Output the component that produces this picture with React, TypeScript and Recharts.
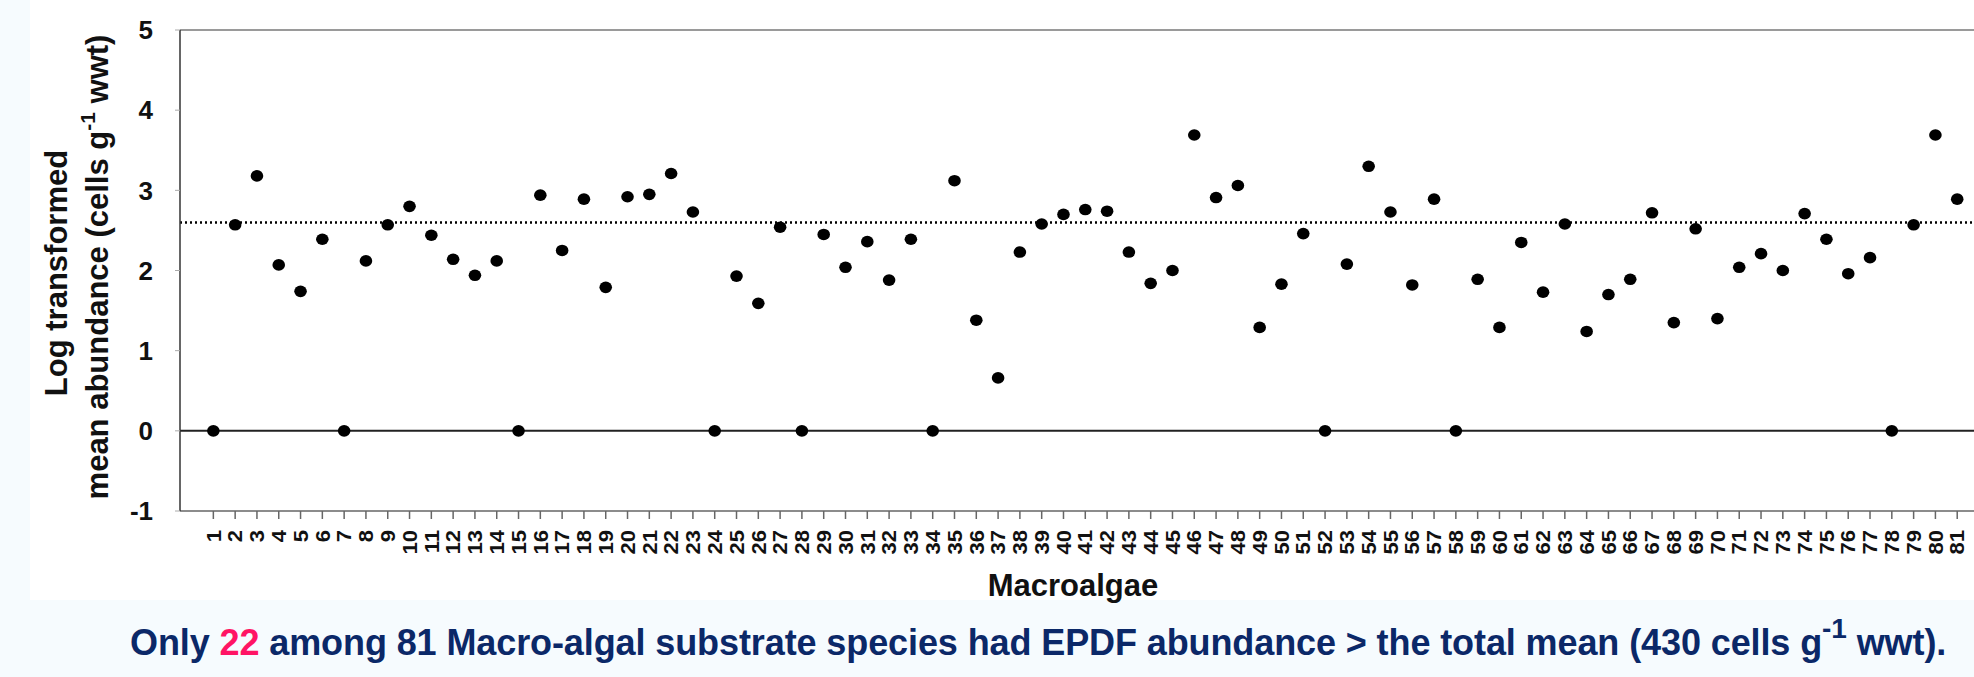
import React from 'react';
import {
  ScatterChart,
  Scatter,
  XAxis,
  YAxis,
  ReferenceLine,
} from 'recharts';

// macroalgae substrate ids (x categories)
const categories = [
  1, 2, 3, 4, 5, 6, 7, 8, 9, 10, 11, 12, 13, 14, 15, 16, 17, 18, 19, 20,
  21, 22, 23, 24, 25, 26, 27, 28, 29, 30, 31, 32, 33, 34, 35, 36, 37, 38, 39, 40,
  41, 42, 43, 44, 45, 46, 47, 48, 49, 50, 51, 52, 53, 54, 55, 56, 57, 58, 59, 60,
  61, 62, 63, 64, 65, 66, 67, 68, 69, 70, 71, 72, 73, 74, 75, 76, 77, 78, 79, 80, 81,
];

// log transformed mean abundance (cells g-1 wwt)
const abundance = [
  0, 2.57, 3.18, 2.07, 1.74, 2.39, 0, 2.12, 2.57, 2.8,
  2.44, 2.14, 1.94, 2.12, 0, 2.94, 2.25, 2.89, 1.79, 2.92,
  2.95, 3.21, 2.73, 0, 1.93, 1.59, 2.54, 0, 2.45, 2.04,
  2.36, 1.88, 2.39, 0, 3.12, 1.38, 0.66, 2.23, 2.58, 2.7,
  2.76, 2.74, 2.23, 1.84, 2.0, 3.69, 2.91, 3.06, 1.29, 1.83,
  2.46, 0, 2.08, 3.3, 2.73, 1.82, 2.89, 0, 1.89, 1.29,
  2.35, 1.73, 2.58, 1.24, 1.7, 1.89, 2.72, 1.35, 2.52, 1.4,
  2.04, 2.21, 2.0, 2.71, 2.39, 1.96, 2.16, 0, 2.57, 3.69, 2.89,
];

const totalMean = 2.6;
const yTicks = [-1, 0, 1, 2, 3, 4, 5];

const data = categories.map((c, i) => ({ x: c, y: abundance[i] }));

const FONT = '"Liberation Sans", Arial, Helvetica, sans-serif';

// rotated, slightly stretched category labels like the original
const XTick = (props: any) => {
  const { x, y, payload } = props;
  const ty = y + 11;
  return (
    <text
      x={0}
      y={0}
      dy="0.36em"
      transform={`translate(${x}, ${ty}) rotate(-90) scale(1.1, 1)`}
      textAnchor="end"
      fontFamily={FONT}
      fontWeight="bold"
      fontSize={20}
      fill="#111"
    >
      {payload.value}
    </text>
  );
};

const Dot = (props: any) => (
  <ellipse cx={props.cx} cy={props.cy} rx={6.3} ry={5.8} fill="#000" />
);

export default function App() {
  return (
    <div
      style={{
        position: 'absolute',
        left: 0,
        top: 0,
        width: 1974,
        height: 677,
        background: '#f6fbfe',
        fontFamily: FONT,
      }}
    >
      <div
        style={{
          position: 'absolute',
          left: 30,
          top: 0,
          width: 1944,
          height: 600,
          background: '#fff',
        }}
      />
      <div style={{ position: 'absolute', left: 0, top: 0 }}>
        <ScatterChart
          width={1974}
          height={677}
          margin={{ top: 30, right: 0, left: 0, bottom: 0 }}
        >
          <XAxis
            type="number"
            dataKey="x"
            domain={[-0.53, 81.77]}
            allowDataOverflow
            ticks={categories}
            interval={0}
            height={166}
            tickSize={8}
            tickMargin={0}
            axisLine={{ stroke: '#8c8c8c', strokeWidth: 2 }}
            tickLine={{ stroke: '#666', strokeWidth: 1.5 }}
            tick={<XTick />}
            label={{
              content: () => (
                <text
                  x={1073}
                  y={596}
                  textAnchor="middle"
                  fontFamily={FONT}
                  fontWeight="bold"
                  fontSize={31}
                  fill="#111"
                >
                  Macroalgae
                </text>
              ),
            }}
          />
          <YAxis
            type="number"
            dataKey="y"
            domain={[-1, 5]}
            ticks={yTicks}
            interval={0}
            width={180}
            tickSize={5}
            tickMargin={22}
            axisLine={{ stroke: '#333', strokeWidth: 1.5 }}
            tickLine={{ stroke: '#aaa', strokeWidth: 1 }}
            tick={{
              fontFamily: FONT,
              fontWeight: 'bold',
              fontSize: 26,
              fill: '#111',
            }}
            label={{
              content: () => (
                <g fontFamily={FONT} fontWeight="bold" fontSize={31} fill="#111">
                  <text
                    x={56}
                    y={273}
                    dy="0.36em"
                    textAnchor="middle"
                    transform="rotate(-90, 56, 273)"
                  >
                    Log transformed
                  </text>
                  <text
                    x={97}
                    y={267}
                    dy="0.36em"
                    textAnchor="middle"
                    transform="rotate(-90, 97, 267)"
                  >
                    mean abundance (cells g
                    <tspan dy={-13} fontSize={21}>-1</tspan>
                    <tspan dy={13}> wwt)</tspan>
                  </text>
                </g>
              ),
            }}
          />
          <ReferenceLine y={5} stroke="#9a9a9a" strokeWidth={2} />
          <ReferenceLine y={0} stroke="#222" strokeWidth={2} />
          <ReferenceLine
            y={totalMean}
            stroke="#000"
            strokeWidth={2.5}
            strokeDasharray="2 3"
          />
          <Scatter data={data} shape={<Dot />} isAnimationActive={false} />
        </ScatterChart>
      </div>
      <div
        style={{
          position: 'absolute',
          left: 130,
          top: 609,
          fontWeight: 'bold',
          fontSize: 36,
          letterSpacing: -0.1,
          lineHeight: '48px',
          color: '#0b2868',
          whiteSpace: 'nowrap',
        }}
      >
        Only <span style={{ color: '#ff1464' }}>22</span> among 81 Macro-algal
        substrate species had EPDF abundance &gt; the total mean (430 cells g
        <sup style={{ fontSize: 28, position: 'relative', top: -4 }}>-1</sup> wwt).
      </div>
    </div>
  );
}
